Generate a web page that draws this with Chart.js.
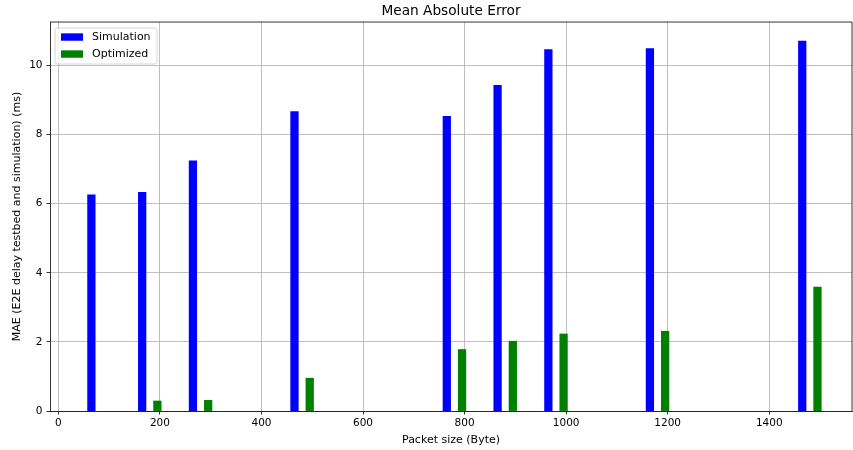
<!DOCTYPE html>
<html>
<head>
<meta charset="utf-8">
<script src="https://cdn.jsdelivr.net/npm/chart.js@4.4.1/dist/chart.umd.min.js"></script>
<style>
  html, body { margin: 0; padding: 0; background: #fff; }
  #wrap { width: 853px; height: 450px; }
</style>
</head>
<body>
<div id="wrap"><canvas id="c" width="853" height="450"></canvas></div>
<script>
// ---- data ----
const simSizes = [100, 200, 300, 500, 800, 900, 1000, 1200, 1500];
const simValues = [6.26, 6.33, 7.24, 8.67, 8.53, 9.43, 10.46, 10.49, 10.71];
const optSizes = [200, 300, 500, 800, 900, 1000, 1200, 1500];
const optValues = [0.29, 0.31, 0.95, 1.78, 2.02, 2.23, 2.31, 3.59];
const xTicks = [0, 200, 400, 600, 800, 1000, 1200, 1400];
const yTicks = [0, 2, 4, 6, 8, 10];
const seriesNames = ['Simulation', 'Optimized'];

// bar placement (style): simulation left of size, optimized just left of size
const SIM_OFFSET = -35, OPT_OFFSET = -5;

const FONT = 'DejaVu Sans';

const frameAndLegend = {
  id: 'frameAndLegend',
  afterDraw(chart) {
    const {ctx, chartArea: a} = chart;
    ctx.save();
    // top and right spines
    ctx.strokeStyle = '#000';
    ctx.lineWidth = 0.8;
    ctx.beginPath();
    ctx.moveTo(a.left, a.top); ctx.lineTo(a.right, a.top);
    ctx.moveTo(a.right, a.top); ctx.lineTo(a.right, a.bottom);
    ctx.stroke();
    // legend
    const x = a.left + 5, y = a.top + 6, w = 102, h = 36, r = 2.5;
    ctx.beginPath();
    ctx.moveTo(x + r, y);
    ctx.arcTo(x + w, y, x + w, y + h, r);
    ctx.arcTo(x + w, y + h, x, y + h, r);
    ctx.arcTo(x, y + h, x, y, r);
    ctx.arcTo(x, y, x + w, y, r);
    ctx.closePath();
    ctx.fillStyle = 'rgba(255,255,255,0.8)';
    ctx.fill();
    ctx.strokeStyle = '#cccccc';
    ctx.lineWidth = 0.8;
    ctx.stroke();
    const colors = chart.data.datasets.map(d => d.backgroundColor);
    ctx.font = '11px "' + FONT + '"';
    ctx.textBaseline = 'middle';
    ctx.textAlign = 'left';
    chart.data.datasets.forEach((d, i) => {
      const ey = y + 9 + i * 17;
      ctx.fillStyle = colors[i];
      ctx.fillRect(x + 6, ey - 3.7, 22, 7.4);
      ctx.fillStyle = '#000';
      ctx.fillText(d.label, x + 37, ey);
    });
    ctx.restore();
  }
};

const tickFmt = v => String(v);

new Chart(document.getElementById('c'), {
  type: 'bar',
  data: {
    datasets: [
      {
        label: seriesNames[0],
        data: simSizes.map((s, i) => ({x: s + SIM_OFFSET, y: simValues[i]})),
        backgroundColor: '#0000ff',
        borderWidth: 0,
        barThickness: 7.6,
        grouped: false
      },
      {
        label: seriesNames[1],
        data: optSizes.map((s, i) => ({x: s + OPT_OFFSET, y: optValues[i]})),
        backgroundColor: '#008000',
        borderWidth: 0,
        barThickness: 7.6,
        grouped: false
      }
    ]
  },
  options: {
    responsive: false,
    animation: false,
    layout: { padding: { left: 0, right: 1, top: 0, bottom: 0 } },
    plugins: {
      legend: { display: false },
      tooltip: { enabled: false },
      title: {
        display: true,
        fullSize: false,
        text: 'Mean Absolute Error',
        color: '#000',
        font: { family: FONT, size: 13.7, weight: 'normal' },
        padding: { top: 3.2, bottom: 2.4 }
      }
    },
    scales: {
      x: {
        type: 'linear',
        min: -16.5,
        max: 1563,
        offset: false,
        z: 1,
        afterBuildTicks(scale) { scale.ticks = xTicks.map(v => ({value: v})); },
        afterFit(scale) { scale.height = 39; },
        ticks: {
          color: '#000',
          font: { family: FONT, size: 10.5 },
          padding: 2.5,
          maxRotation: 0,
          autoSkip: false,
          includeBounds: false,
          callback: tickFmt
        },
        grid: {
          offset: false,
          color: '#b0b0b0',
          lineWidth: 0.8,
          drawTicks: true,
          tickLength: 3.5,
          tickColor: '#000',
          tickWidth: 0.8
        },
        border: { display: true, color: '#000', width: 0.8 },
        title: {
          display: true,
          text: 'Packet size (Byte)',
          color: '#000',
          font: { family: FONT, size: 11 },
          padding: { top: 0, bottom: 3.4 }
        }
      },
      y: {
        type: 'linear',
        min: 0,
        max: 11.26,
        z: 1,
        afterBuildTicks(scale) { scale.ticks = yTicks.map(v => ({value: v})); },
        afterFit(scale) { scale.width = 50; },
        ticks: {
          color: '#000',
          font: { family: FONT, size: 10.5 },
          padding: 4,
          includeBounds: false,
          callback: tickFmt
        },
        grid: {
          color: '#b0b0b0',
          lineWidth: 0.8,
          drawTicks: true,
          tickLength: 3.5,
          tickColor: '#000',
          tickWidth: 0.8
        },
        border: { display: true, color: '#000', width: 0.8 },
        title: {
          display: true,
          text: 'MAE (E2E delay testbed and simulation) (ms)',
          color: '#000',
          font: { family: FONT, size: 11 },
          padding: { top: 11, bottom: 0 }
        }
      }
    }
  },
  plugins: [frameAndLegend]
});
</script>
</body>
</html>
